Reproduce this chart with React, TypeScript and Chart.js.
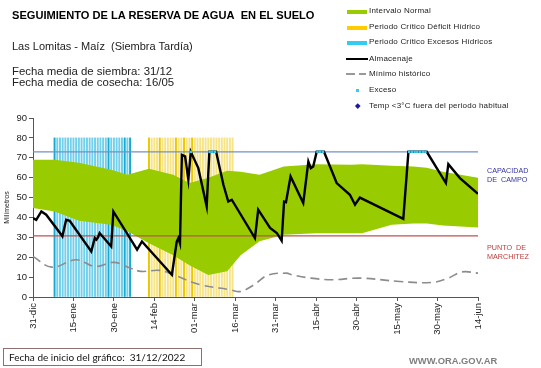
import React, { useEffect, useRef } from "react";
import { Chart, registerables } from "chart.js";

Chart.register(...registerables);

const xTickLabels = ["31-dic", "15-ene", "30-ene", "14-feb", "01-mar", "16-mar", "31-mar", "15-abr", "30-abr", "15-may", "30-may", "14-jun"];

// days since 31-dic
const storageDays = [0, 1.2, 3.1, 4.9, 10.5, 10.9, 12.3, 13.6, 21.6, 22.9, 23.5, 24.1, 24.7, 29, 29.8, 38.6, 40.4, 51.5, 53.3, 53.9, 54.5, 55.2, 56.4, 57.6, 58.5, 61.3, 64.4, 65.4, 67.9, 70.6, 72.4, 73.7, 82.3, 83.5, 87.9, 90.4, 92.2, 93.1, 93.8, 95.5, 100.2, 102.1, 103, 103.9, 105.2, 107.9, 112.6, 117.5, 119.4, 121.2, 137.3, 139.2, 146, 153.1, 154, 158.3, 165];
const storageValues = [39.7, 38.8, 43, 41.4, 31.3, 30.5, 38.8, 38.3, 22.9, 29.6, 28.8, 30, 32.2, 25.4, 43, 23.8, 27.9, 11.2, 27.9, 29.6, 27, 71.5, 70.7, 59, 73, 64.8, 45.5, 73, 73, 56.4, 48, 48.9, 29.6, 43.9, 34.7, 32.2, 28.3, 48, 47.7, 60.6, 47.2, 68.1, 64.8, 65.6, 73, 73, 57.3, 51.4, 46.4, 50, 39.3, 73, 73, 57.3, 66.8, 59.8, 51.9];

const minDays = [0, 7, 16, 23, 30, 36, 40, 47, 52, 62, 73, 77, 82, 87, 94, 96, 103, 111, 121, 136, 148, 154, 159, 165];
const minValues = [20.4, 15, 18.7, 15.4, 17.4, 14.6, 12.9, 13.4, 11.2, 6.2, 3.7, 2.8, 6.2, 10.9, 12, 11.2, 9.5, 8.7, 9.5, 7.8, 7.3, 9.5, 12.6, 12];

const bandDays = [0, 8, 17, 29, 35, 43, 52, 58, 65, 72, 77, 84, 93, 105, 118, 122, 133, 141, 146, 152, 165];
const bandUpper = [69, 69, 67.5, 64, 61.5, 64.5, 61.5, 57.3, 60, 63.5, 63, 61.5, 65.6, 66.8, 66.5, 66.8, 66, 65.6, 65, 63, 60];
const bandLower = [44.7, 43, 38.3, 36.3, 33, 27, 21, 16, 11, 13, 21, 28, 31.3, 32, 32, 32, 36.3, 37, 37, 36, 35];

const excessPeriodDays = [8, 9, 10, 11, 12, 13, 14, 15, 16, 17, 18, 19, 20, 21, 22, 23, 24, 25, 26, 27, 28, 29, 30, 31, 32, 33, 34, 35, 36];
const excessPeriodDark = [8, 28, 34, 36];
const deficitPeriodDays = [43, 44, 45, 46, 47, 48, 49, 50, 51, 52, 53, 54, 55, 56, 57, 58, 59, 60, 61, 62, 63, 64, 65, 66, 67, 68, 69, 70, 71, 72, 73, 74];
const deficitPeriodDark = [43, 47, 53, 56, 59];
const periodTop = 80;

const excessDays = [58.5, 65.5, 66.5, 67.5, 105.5, 106.5, 107.5, 139.5, 140.5, 141.5, 142.5, 143.5, 144.5, 145.5];
const fieldCapacity = 73;
const wiltingPoint = 30.7;
const xMin = 0;
const xMax = 165;

const FONT = "'Liberation Sans', Arial, sans-serif";

function makeOptions(visibleAxes: boolean): any {
  const ink = visibleAxes ? "#222" : "rgba(0,0,0,0)";
  const line = visibleAxes ? "#555" : "rgba(0,0,0,0)";
  return {
    responsive: false,
    animation: false,
    devicePixelRatio: 1,
    layout: { padding: { top: 118, right: 63, left: 3, bottom: 0 } },
    plugins: { legend: { display: false }, tooltip: { enabled: false } },
    scales: {
      x: {
        type: "linear",
        min: xMin,
        max: xMax,
        offset: false,
        afterFit: (s: any) => {
          s.height = 71;
        },
        grid: { display: true, drawOnChartArea: false, drawTicks: true, tickLength: 4, color: line },
        border: { display: true, color: line },
        ticks: {
          stepSize: 15,
          autoSkip: false,
          minRotation: 90,
          maxRotation: 90,
          padding: 2,
          color: ink,
          font: { family: FONT, size: 9.5 },
          callback: (v: any) => xTickLabels[Math.round(Number(v) / 15)] ?? "",
        },
      },
      y: {
        min: 0,
        max: 90,
        afterFit: (s: any) => {
          s.width = 30;
        },
        title: { display: true, text: "Milímetros", color: ink, font: { family: FONT, size: 7 }, padding: 0 },
        grid: { display: true, drawOnChartArea: false, drawTicks: true, tickLength: 4, color: line },
        border: { display: true, color: line },
        ticks: { stepSize: 10, padding: 2, color: ink, font: { family: FONT, size: 9.5 } },
      },
    },
  };
}

const canvasStyle: React.CSSProperties = { position: "absolute", left: 0, top: 0, width: 541, height: 368 };

function PeriodCanvas() {
  const ref = useRef<HTMLCanvasElement | null>(null);
  useEffect(() => {
    if (!ref.current) return;
    const chart = new Chart(ref.current, {
      type: "line",
      data: {
        datasets: [
          {
            type: "bar",
            data: excessPeriodDays.map((d) => ({ x: d, y: periodTop })),
            backgroundColor: excessPeriodDays.map((d) => (excessPeriodDark.includes(d) ? "#1aa8d0" : "#72d0ea")),
            barThickness: 1.3,
            grouped: false,
          } as any,
          {
            type: "bar",
            data: deficitPeriodDays.map((d) => ({ x: d, y: periodTop })),
            backgroundColor: deficitPeriodDays.map((d) => (deficitPeriodDark.includes(d) ? "#ecc800" : "#f7e487")),
            barThickness: 1.3,
            grouped: false,
          } as any,
        ],
      },
      options: makeOptions(false),
    });
    return () => chart.destroy();
  }, []);
  return <canvas ref={ref} width={541} height={368} style={canvasStyle} />;
}

function MainCanvas() {
  const ref = useRef<HTMLCanvasElement | null>(null);
  useEffect(() => {
    if (!ref.current) return;
    const pts = (xs: number[], ys: number[]) => xs.map((x, i) => ({ x, y: ys[i] }));
    const chart = new Chart(ref.current, {
      type: "line",
      data: {
        datasets: [
          {
            data: excessDays.map((d) => ({ x: d, y: fieldCapacity })),
            showLine: false,
            pointStyle: "rect",
            pointRadius: 1.8,
            pointBackgroundColor: "#3cc8f0",
            pointBorderWidth: 0,
            order: 0,
          },
          {
            data: pts(storageDays, storageValues),
            borderColor: "#000000",
            borderWidth: 2.4,
            pointRadius: 0,
            order: 1,
          },
          {
            data: pts(minDays, minValues),
            borderColor: "#8c8c8c",
            borderWidth: 1.6,
            borderDash: [9, 5],
            pointRadius: 0,
            tension: 0.4,
            order: 2,
          },
          {
            data: [{ x: xMin, y: fieldCapacity }, { x: xMax, y: fieldCapacity }],
            borderColor: "#7391c8",
            borderWidth: 1.2,
            pointRadius: 0,
            order: 3,
          },
          {
            data: [{ x: xMin, y: wiltingPoint }, { x: xMax, y: wiltingPoint }],
            borderColor: "#c0504d",
            borderWidth: 1.2,
            pointRadius: 0,
            order: 3,
          },
          {
            data: pts(bandDays, bandLower),
            borderWidth: 0,
            pointRadius: 0,
            fill: false,
            order: 5,
          },
          {
            data: pts(bandDays, bandUpper),
            borderWidth: 0,
            pointRadius: 0,
            fill: "-1",
            backgroundColor: "#99cc00",
            order: 5,
          },
        ],
      },
      options: makeOptions(true),
    });
    return () => chart.destroy();
  }, []);
  return <canvas ref={ref} width={541} height={368} style={canvasStyle} />;
}

const abs = (l: number, t: number, extra: React.CSSProperties = {}): React.CSSProperties => ({
  position: "absolute",
  left: l,
  top: t,
  whiteSpace: "nowrap",
  fontFamily: FONT,
  lineHeight: 1,
  ...extra,
});

const legendItems = [
  "Intervalo Normal",
  "Periodo Crítico Déficit Hídrico",
  "Periodo Crítico Excesos Hídricos",
  "Almacenaje",
  "Mínimo histórico",
  "Exceso",
  "Temp <3°C fuera del periodo habitual",
];
const legendRowY = [11.7, 27.3, 42.7, 59.3, 74, 90, 106];

export default function App() {
  return (
    <div style={{ position: "absolute", left: 0, top: 0, width: 541, height: 368, background: "#fff", overflow: "hidden" }}>
      <PeriodCanvas />
      <MainCanvas />
      <div style={abs(12, 10, { fontSize: 11.1, fontWeight: "bold", color: "#000" })}>
        SEGUIMIENTO DE LA RESERVA DE AGUA&nbsp; EN EL SUELO
      </div>
      <div style={abs(12, 41, { fontSize: 11, color: "#222" })}>Las Lomitas - Maíz&nbsp; (Siembra Tardía)</div>
      <div style={abs(12, 66, { fontSize: 11.4, color: "#222", lineHeight: "11px" })}>
        Fecha media de siembra: 31/12
        <br />
        Fecha media de cosecha: 16/05
      </div>
      {/* legend */}
      <div style={{ position: "absolute", left: 347, top: 10, width: 20, height: 4, background: "#99cc00" }} />
      <div style={{ position: "absolute", left: 347, top: 25.5, width: 20, height: 4, background: "#ffcc00" }} />
      <div style={{ position: "absolute", left: 347, top: 41, width: 20, height: 4, background: "#33ccee" }} />
      <div style={{ position: "absolute", left: 346, top: 58.3, width: 22, height: 2, background: "#000" }} />
      <div style={{ position: "absolute", left: 346, top: 73.3, width: 9, height: 1.5, background: "#999" }} />
      <div style={{ position: "absolute", left: 359, top: 73.3, width: 7, height: 1.5, background: "#999" }} />
      <div style={{ position: "absolute", left: 356, top: 89, width: 2.5, height: 2.5, background: "#33ccee" }} />
      <div style={{ position: "absolute", left: 355.5, top: 104, width: 3.5, height: 3.5, background: "#1a1aa0", transform: "rotate(45deg)" }} />
      {legendItems.map((t, i) => (
        <div key={t} style={abs(369, legendRowY[i] - 4.5, { fontSize: 8, color: "#222", letterSpacing: 0.2 })}>
          {t}
        </div>
      ))}
      <div style={abs(487, 166, { fontSize: 7.2, color: "#3535a0", lineHeight: "9px" })}>
        CAPACIDAD
        <br />
        DE&nbsp; CAMPO
      </div>
      <div style={abs(487, 242.5, { fontSize: 7.2, color: "#c03c3c", lineHeight: "9px" })}>
        PUNTO&nbsp; DE
        <br />
        MARCHITEZ
      </div>
      <div
        style={{
          position: "absolute",
          left: 3,
          top: 348,
          width: 199,
          height: 18,
          border: "1px solid #8c7070",
          boxSizing: "border-box",
        }}
      />
      <div style={abs(9, 352, { fontSize: 10, color: "#111", fontFamily: "Lato, 'Liberation Sans', sans-serif" })}>
        Fecha de inicio del gráfico:&nbsp; 31/12/2022
      </div>
      <div style={abs(409, 355.5, { fontSize: 9.4, color: "#7f7f7f", fontWeight: "bold" })}>WWW.ORA.GOV.AR</div>
    </div>
  );
}
